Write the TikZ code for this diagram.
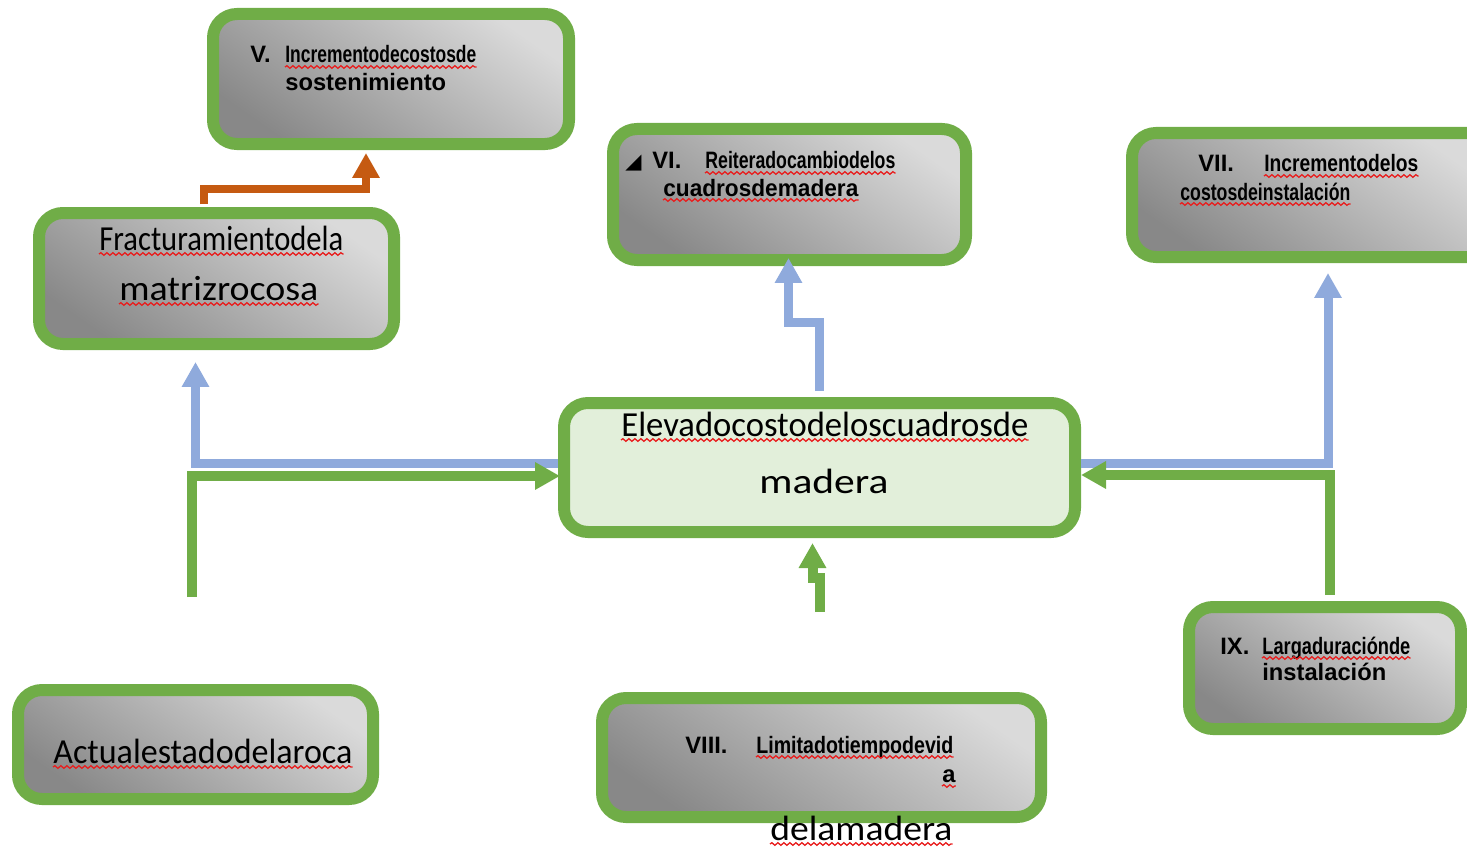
\documentclass[tikz,border=0pt]{standalone}
\usepackage{fontspec}
\setmainfont{Carlito}
\newfontfamily\arialfont{Liberation Sans}
\newfontfamily\symbfont{DejaVu Sans}
\usepackage{graphicx}
\usepackage{tikz}
\usetikzlibrary{arrows.meta, calc, decorations.pathmorphing}
\definecolor{boxgreen}{RGB}{112, 173, 71}
\definecolor{lightgreen}{RGB}{226, 239, 218}
\definecolor{linkblue}{RGB}{143, 170, 220}
\definecolor{linkorange}{RGB}{197, 90, 17}
\definecolor{boxlight}{RGB}{218, 218, 218}
\definecolor{boxdark}{RGB}{136, 136, 136}
\definecolor{spellred}{RGB}{232, 30, 30}
\newlength\pxu
\setlength\pxu{0.02cm}
\newcommand\fitx[2]{\resizebox{#1\pxu}{\height}{#2}}
\tikzset{
    boxbase/.style={rectangle, rounded corners=24\pxu, draw=boxgreen, line width=12\pxu, inner sep=0},
    cause/.style={boxbase, top color=boxlight, bottom color=boxdark, shading angle=-35},
    problem/.style={boxbase, fill=lightgreen},
    causetext/.style={inner sep=0, anchor=base west, font=\arialfont\bfseries\fontsize{13.5}{16}\selectfont},
    maintext/.style={inner sep=0, anchor=base west, font=\fontsize{20}{24}\selectfont},
    arrow/.style={line width=9\pxu, linkblue, -{Triangle[width=0.52cm, length=0.5cm]}},
    feed/.style={arrow, boxgreen, line width=10\pxu},
    squig/.style={spellred, line width=1.3\pxu, decorate, decoration={snake, amplitude=1.3\pxu, segment length=6\pxu}}
}

\begin{document}
\begin{tikzpicture}[x=0.02cm, y=-0.02cm]
        \clip (0,0) rectangle (1467,855);

        % Boxes
        \node[cause, minimum width=356\pxu, minimum height=130\pxu] (v) at (391,79) {};
        \node[cause, minimum width=353\pxu, minimum height=131\pxu] (vi) at (789.5,194.5) {};
        \node[cause, minimum width=360\pxu, minimum height=124\pxu] (vii) at (1312,195) {};
        \node[cause, minimum width=355\pxu, minimum height=131\pxu] (fract) at (216.5,278.5) {};
        \node[problem, minimum width=511\pxu, minimum height=129\pxu] (central) at (819.5,467.5) {};
        \node[cause, minimum width=272\pxu, minimum height=122\pxu] (ix) at (1325,668) {};
        \node[cause, minimum width=439\pxu, minimum height=119\pxu] (viii) at (821.5,757.5) {};
        \node[cause, minimum width=355\pxu, minimum height=109\pxu] (actual) at (195.5,744.5) {};

        % Texts
        \node[causetext] (v0) at (250,63) {V.};
        \node[causetext] (v1) at (285,63) {\fitx{191}{Incrementodecostosde}};
        \node[causetext] (v2) at (285,91) {sostenimiento};
        \node[causetext, font=\symbfont\fontsize{12}{14}\selectfont] (vi0) at (625,168) {◢};
        \node[causetext] (vi1) at (652,169) {VI.};
        \node[causetext] (vi2) at (705,169) {\fitx{190}{Reiteradocambiodelos}};
        \node[causetext] (vi3) at (663,196) {\fitx{195}{cuadrosdemadera}};
        \node[causetext] (vii1) at (1198,172) {VII.};
        \node[causetext] (vii2) at (1264,172) {\fitx{154}{Incrementodelos}};
        \node[causetext] (vii3) at (1180,200) {\fitx{170}{costosdeinstalación}};
        \node[maintext] (fract1) at (99,250) {\fitx{244}{Fracturamientodela}};
        \node[maintext] (fract2) at (119,300) {\fitx{199}{matrizrocosa}};
        \node[maintext] (central1) at (621,436) {\fitx{407}{Elevadocostodeloscuadrosde}};
        \node[maintext] (central2) at (759,493) {\fitx{129}{madera}};
        \node[causetext] (ix1) at (1220,654) {IX.};
        \node[causetext] (ix2) at (1262,654) {\fitx{148}{Largaduraciónde}};
        \node[causetext] (ix3) at (1262,680) {instalación};
        \node[causetext] (viii1) at (685,753) {VIII.};
        \node[causetext] (viii2) at (756,753) {\fitx{197}{Limitadotiempodevid}};
        \node[causetext] (viii3) at (942,782) {a};
        \node[maintext] (viii4) at (770,840) {\fitx{182}{delamadera}};
        \node[maintext] (actual1) at (53,763) {\fitx{299}{Actualestadodelaroca}};

        % Spelling marks
        \foreach \t in {v1, vi2, vi3, vii2, vii3, fract1, fract2, central1, ix2, viii2, viii3, viii4, actual1}
            \draw[squig] ([yshift=-4\pxu]\t.base west) -- ([yshift=-4\pxu]\t.base east);

        % Links
        \draw[arrow, linkorange, line width=8\pxu] ($(fract.north)+(-13,-3)$) |- ($(v.south)+(-25,39)$) -- ($(v.south)+(-25,3)$);
        \draw[arrow] ($(central.north)+(0,-6)$) -- ++(0,-69) -| ($(vi.south)+(-1,-8)$);
        \draw[arrow] ($(central.west)+(0,-4)$) -| ($(fract.south)+(-21,12)$);
        \draw[arrow] ($(central.east)+(0,-4)$) -| ($(vii.south)+(16,10)$);

        \coordinate (a0) at (192,597);
        \coordinate (m0) at (820,612);
        \draw[feed] (a0) |- ($(central.west)+(2,8.5)$);
        \draw[feed] ($(ix.north)+(5,-6)$) |- ($(central.east)+(0,7.5)$);
        \draw[feed] (m0) -- ++(0,-34) -| ($(central.south)+(-7,5)$);
    \end{tikzpicture}
\end{document}
